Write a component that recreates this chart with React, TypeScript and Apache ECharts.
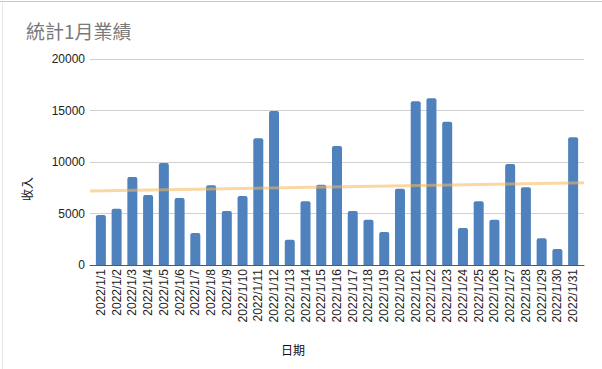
import React, { useEffect, useRef } from "react";
import * as echarts from "echarts";

const dates = [
  "2022/1/1", "2022/1/2", "2022/1/3", "2022/1/4", "2022/1/5", "2022/1/6", "2022/1/7", "2022/1/8",
  "2022/1/9", "2022/1/10", "2022/1/11", "2022/1/12", "2022/1/13", "2022/1/14", "2022/1/15", "2022/1/16",
  "2022/1/17", "2022/1/18", "2022/1/19", "2022/1/20", "2022/1/21", "2022/1/22", "2022/1/23", "2022/1/24",
  "2022/1/25", "2022/1/26", "2022/1/27", "2022/1/28", "2022/1/29", "2022/1/30", "2022/1/31",
];

const revenue = [
  4850, 5450, 8550, 6800, 9900, 6500, 3100, 7750,
  5250, 6700, 12300, 14950, 2450, 6200, 7800, 11550,
  5250, 4400, 3200, 7400, 15900, 16200, 13900, 3600,
  6200, 4400, 9800, 7550, 2600, 1550, 12400,
];

// trendline value at the left and right edges of the plot
const trendEnds = [7180, 7990];

const yMin = 0;
const yMax = 20000;
const yInterval = 5000;

const titleText = "統計1月業績";
const yName = "收入";
const xName = "日期";

const latin = "'Liberation Sans', Arial, 'Noto Sans CJK TC', sans-serif";
const cjk = "'Noto Sans CJK TC', 'Noto Sans CJK SC', sans-serif";

export default function App() {
  const ref = useRef<HTMLDivElement>(null);
  useEffect(() => {
    const chart = echarts.init(ref.current!, null, { renderer: "svg" });
    chart.setOption({
      animation: false,
      backgroundColor: "#ffffff",
      title: {
        text: titleText,
        left: 21,
        top: 16,
        textStyle: { fontSize: 19, color: "#7a7a7a", fontWeight: "normal", fontFamily: cjk },
      },
      grid: [
        { left: 90, right: 18, top: 59, bottom: 104, containLabel: false },
        { left: 93, right: 21, top: 59, bottom: 104, containLabel: false },
      ],
      xAxis: [
        {
          gridIndex: 0,
          type: "category",
          data: dates,
          axisLine: { lineStyle: { color: "#595959", width: 1 } },
          axisTick: { show: false },
          axisLabel: { show: false },
          splitLine: { show: false },
        },
        { gridIndex: 0, type: "value", min: 0, max: 1, show: false },
        {
          gridIndex: 1,
          type: "category",
          data: dates,
          axisLine: { show: false },
          axisTick: { show: false },
          axisLabel: {
            rotate: 90,
            interval: 0,
            fontSize: 12,
            color: "#222",
            margin: 4,
            fontFamily: latin,
          },
        },
      ],
      yAxis: [
        {
          gridIndex: 0,
          type: "value",
          min: yMin,
          max: yMax,
          interval: yInterval,
          axisLine: { show: false },
          axisTick: { show: false },
          splitLine: { lineStyle: { color: "#d0d0d0", width: 1 } },
          axisLabel: {
            fontSize: 12,
            color: "#222",
            margin: 5,
            fontFamily: latin,
            formatter: (v: number) => String(v),
          },
        },
        { gridIndex: 1, type: "value", min: yMin, max: yMax, show: false },
      ],
      series: [
        {
          type: "bar",
          xAxisIndex: 2,
          yAxisIndex: 1,
          data: revenue,
          barWidth: 10,
          itemStyle: { color: "#4f81bd", borderRadius: [2, 2, 0, 0] },
        },
        {
          type: "line",
          xAxisIndex: 1,
          yAxisIndex: 0,
          data: [
            [0, trendEnds[0]],
            [1, trendEnds[1]],
          ],
          showSymbol: false,
          symbol: "none",
          lineStyle: { color: "#f8b858", width: 3, opacity: 0.55 },
          z: 5,
        },
      ],
      graphic: [
        { type: "line", shape: { x1: 0, y1: 1.5, x2: 602, y2: 1.5 }, style: { stroke: "#c6c6c6", lineWidth: 1 } },
        { type: "line", shape: { x1: 2.5, y1: 3, x2: 2.5, y2: 369 }, style: { stroke: "#e6e6e6", lineWidth: 1 } },
        {
          type: "text",
          x: 26,
          y: 189,
          rotation: Math.PI / 2,
          style: { text: yName, fontSize: 12, fill: "#111", align: "center", verticalAlign: "middle", fontFamily: cjk },
        },
        {
          type: "text",
          x: 293,
          y: 349,
          style: { text: xName, fontSize: 12, fill: "#111", align: "center", verticalAlign: "middle", fontFamily: cjk },
        },
      ],
    });
    return () => chart.dispose();
  }, []);
  return (
    <div
      ref={ref}
      style={{ position: "fixed", left: 0, top: 0, width: 602, height: 369, background: "#fff" }}
    />
  );
}
